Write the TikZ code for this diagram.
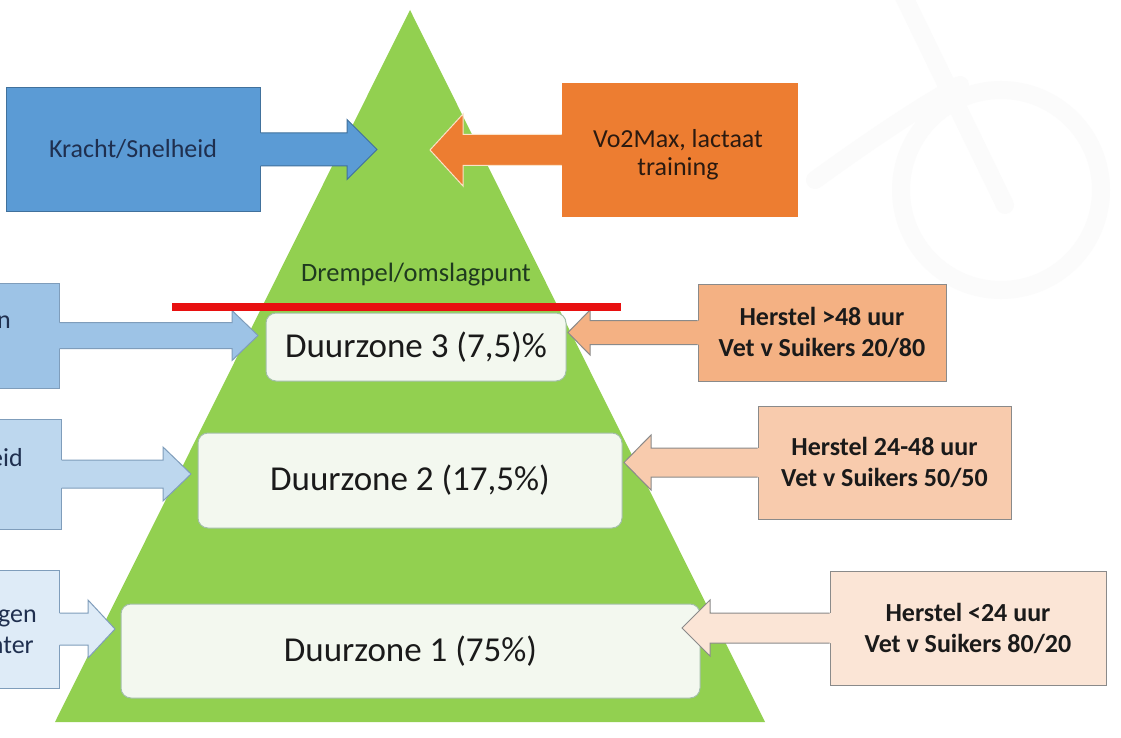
\documentclass[tikz,border=0pt]{standalone}
\usepackage{fontspec}
\setmainfont{Carlito}
\usetikzlibrary{calc}

\definecolor{pyramid}{HTML}{92D050}
\definecolor{blueA}{HTML}{5B9BD5}
\definecolor{blueAline}{HTML}{41719C}
\definecolor{blueB}{HTML}{9DC3E6}
\definecolor{blueC}{HTML}{BDD7EE}
\definecolor{blueD}{HTML}{DEEBF7}
\definecolor{blueline}{HTML}{7F9DBB}
\definecolor{orangeA}{HTML}{ED7D31}
\definecolor{orangeline}{HTML}{FBE3C8}
\definecolor{peachA}{HTML}{F4B183}
\definecolor{peachB}{HTML}{F8CBAD}
\definecolor{peachC}{HTML}{FBE5D6}
\definecolor{greyline}{HTML}{8A8A8A}
\definecolor{zonefill}{HTML}{F3F8EF}
\definecolor{zoneline}{HTML}{A3BFA8}
\definecolor{textdark}{HTML}{1A1A1A}
\definecolor{navytext}{HTML}{1F2F4F}
\definecolor{greentext}{HTML}{1F3A1F}
\definecolor{brown}{HTML}{2B1A10}
\definecolor{redline}{HTML}{E81010}
\definecolor{wmark}{HTML}{FBFBFB}

% Box-with-arrow callout: #1 box anchor, #2 tip coordinate, #3 direction (1 right, -1 left),
% #4 shaft half height, #5 head half height, #6 head length, #7 fill, #8 outline
\newcommand{\callout}[8]{%
  \fill[#7] ($(#1)+({-2*(#3)},{-(#4)})$) -- ($(#2)+({-(#3)*(#6)},{-(#4)})$)
    -- ($(#2)+({-(#3)*(#6)},{-(#5)})$) -- (#2) -- ($(#2)+({-(#3)*(#6)},{#5})$)
    -- ($(#2)+({-(#3)*(#6)},{#4})$) -- ($(#1)+({-2*(#3)},{#4})$) -- cycle;
  \draw[#8, line width=1pt, line join=miter] ($(#1)+(0,{-(#4)})$) -- ($(#2)+({-(#3)*(#6)},{-(#4)})$)
    -- ($(#2)+({-(#3)*(#6)},{-(#5)})$) -- (#2) -- ($(#2)+({-(#3)*(#6)},{#5})$)
    -- ($(#2)+({-(#3)*(#6)},{#4})$) -- ($(#1)+(0,{#4})$);
}

\tikzset{
  zone/.style={rectangle, draw=zoneline, fill=zonefill, rounded corners=10pt,
    line width=1pt, inner sep=0pt, text=textdark, font=\fontsize{35}{40}\selectfont},
  srcbox/.style={rectangle, inner sep=0pt, line width=1pt},
  herstel/.style={srcbox, draw=greyline, align=center, text=textdark,
    font=\bfseries\fontsize{26}{31}\selectfont},
  frag/.style={inner sep=0pt, text=navytext, font=\fontsize{26}{28}\selectfont},
}

\begin{document}
\begin{tikzpicture}[x=1pt,y=-1pt]
\useasboundingbox (0,0) rectangle (1121,738);
\clip (0,0) rectangle (1121,738);
\fill[white] (0,0) rectangle (1121,738);

% faint bicycle logo in the background
\begin{scope}[draw=wmark, line width=18pt, line cap=round]
  \draw (1001,190) circle[radius=100pt];
  \draw (903,-5) -- (1005,205);
  \draw (815,180) .. controls (870,140) and (930,100) .. (960,85);
\end{scope}

% pyramid
\coordinate (apex) at (410,10);
\coordinate (baseL) at (55,722);
\coordinate (baseR) at (765,722);
\fill[pyramid] (apex) -- (baseR) -- (baseL) -- cycle;

% zones
\node[zone, minimum width=300pt, minimum height=68pt] (d3) at (416,347) {Duurzone 3 (7,5)\%};
\node[zone, minimum width=424pt, minimum height=95pt] (d2) at (410,480.5) {Duurzone 2 (17,5\%)};
\node[zone, minimum width=579pt, minimum height=94pt] (d1) at (410.5,651) {Duurzone 1 (75\%)};

\node[inner sep=0pt, text=greentext, font=\fontsize{26.5}{28}\selectfont] (drempel) at (416,275) {Drempel/omslagpunt};

% top left: strength
\node[srcbox, fill=blueA, draw=blueAline, minimum width=254pt, minimum height=123pt,
  text=navytext, font=\fontsize{26}{28}\selectfont] (kr) at (133,149.5) {Kracht/Snelheid};
\coordinate (krtip) at (377,149.5);
\callout{kr.east}{krtip}{1}{16.5}{30}{30}{blueA}{blueAline}

% top right: VO2max
\node[srcbox, fill=orangeA, minimum width=236pt, minimum height=134pt] (vo) at (680,150) {};
\node[inner sep=0pt, align=center, text=brown, font=\fontsize{26}{28}\selectfont] (votext) at (678,155) {Vo2Max, lactaat\\training};
\coordinate (votip) at (430,150);
\callout{vo.west}{votip}{-1}{15.5}{36}{33}{orangeA}{orangeline}

% left boxes (running off the edge)
\node[srcbox, fill=blueB, draw=blueline, minimum width=160pt, minimum height=105pt] (lb1) at (-21,335.5) {};
\coordinate (lb1tip) at (258,335.5);
\callout{lb1.east}{lb1tip}{1}{13}{25}{26}{blueB}{blueline}
\node[frag, anchor=base east] (lb1txt) at (11,328) {n};

\node[srcbox, fill=blueC, draw=blueline, minimum width=160pt, minimum height=110pt] (lb2) at (-19,474) {};
\coordinate (lb2tip) at (191,474);
\callout{lb2.east}{lb2tip}{1}{14}{27}{28}{blueC}{blueline}
\node[frag, anchor=base east] (lb2txt) at (23,466) {eid};

\node[srcbox, fill=blueD, draw=blueline, minimum width=160pt, minimum height=118pt] (lb3) at (-21,629) {};
\coordinate (lb3tip) at (115,629);
\callout{lb3.east}{lb3tip}{1}{16}{29}{27}{blueD}{blueline}
\node[frag, anchor=base east] (lb3txtA) at (37,622) {gen};
\node[frag, anchor=base east] (lb3txtB) at (34,653) {nter};

% right boxes: recovery
\node[herstel, fill=peachA, minimum width=248pt, minimum height=97pt] (r1) at (822,332.5) {Herstel >48 uur\\Vet v Suikers 20/80};
\coordinate (r1tip) at (568,332.5);
\callout{r1.west}{r1tip}{-1}{12}{22.5}{22}{peachA}{greyline}

\node[herstel, fill=peachB, minimum width=253pt, minimum height=113pt] (r2) at (884.5,462.5) {Herstel 24-48 uur\\Vet v Suikers 50/50};
\coordinate (r2tip) at (624,462.5);
\callout{r2.west}{r2tip}{-1}{14.5}{27.5}{27}{peachB}{greyline}

\node[herstel, fill=peachC, minimum width=276pt, minimum height=114pt] (r3) at (968,628) {Herstel <24 uur\\Vet v Suikers 80/20};
\coordinate (r3tip) at (682,628);
\callout{r3.west}{r3tip}{-1}{15}{28}{28}{peachC}{greyline}

% threshold line
\coordinate (thrL) at (172,307);
\coordinate (thrR) at (621,307);
\draw[redline, line width=7.5pt] (thrL) -- (thrR);
\end{tikzpicture}
\end{document}
